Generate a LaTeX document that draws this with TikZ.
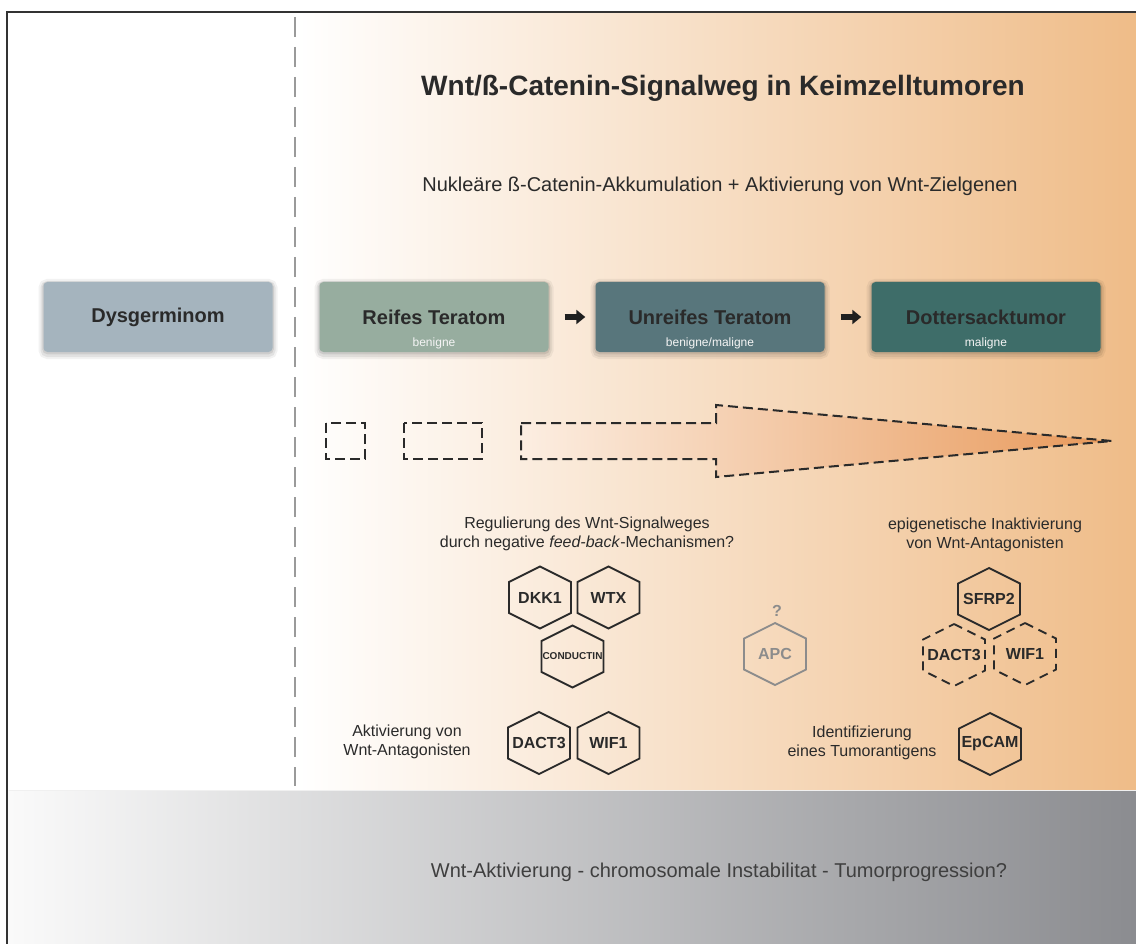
\documentclass[tikz,border=0pt]{standalone}
\usepackage{fontspec}
\setmainfont{Liberation Sans}
\usetikzlibrary{positioning}
\usetikzlibrary{arrows.meta}

\definecolor{frameline}{HTML}{333333}
\definecolor{sepline}{HTML}{9A9A9A}
\definecolor{warmL}{HTML}{FFFFFF}
\definecolor{warmM}{HTML}{F7DEC4}
\definecolor{warmR}{HTML}{EFBC88}
\definecolor{bandL}{HTML}{FAFAFA}
\definecolor{bandM}{HTML}{D2D2D4}
\definecolor{bandR}{HTML}{8B8C90}
\definecolor{dysgcol}{HTML}{A5B4BE}
\definecolor{reifcol}{HTML}{97AD9F}
\definecolor{unreifcol}{HTML}{58767C}
\definecolor{dottercol}{HTML}{3E6D69}
\definecolor{inkdark}{HTML}{2A2A2A}
\definecolor{apcgray}{HTML}{8C8C8C}
\definecolor{arrowL}{HTML}{FCEEE2}
\definecolor{arrowR}{HTML}{E8995A}

% hexagon cell: [options] {name} {position} {label}
\newcommand{\hexcell}[4][]{%
  \node[hexlabel,#1] (#2) at (#3) {#4};
  \draw[hexline,#1] (#2) +(0,-31) -- +(31,-15.5) -- +(31,15.5) -- +(0,31)
    -- +(-31,15.5) -- +(-31,-15.5) -- cycle;
}

\begin{document}
\begin{tikzpicture}[
    x=1pt, y=-1pt,
    stage/.style={rounded corners=4pt, minimum width=229pt, minimum height=70pt,
      inner sep=0pt, text=inkdark, font=\fontsize{20}{24}\selectfont\bfseries,
      preaction={draw=black, draw opacity=0.05, line width=10pt, transform canvas={yshift=-2pt}},
      preaction={draw=black, draw opacity=0.07, line width=6pt, transform canvas={yshift=-2pt}},
      preaction={draw=black, draw opacity=0.09, line width=2.5pt, transform canvas={yshift=-1pt}}},
    grade/.style={inner sep=0pt, text=white!92!gray, font=\fontsize{12}{14}\selectfont},
    steparrow/.style={line width=6pt, draw=black!88, -{Triangle[length=9pt,width=14pt]},
      shorten <=16pt, shorten >=10pt},
    hexlabel/.style={inner sep=0pt, color=inkdark, font=\fontsize{16}{18}\selectfont\bfseries},
    hexline/.style={draw, color=inkdark, line width=1.8pt},
    hexdash/.style={dash pattern=on 9pt off 6pt},
    dashbox/.style={draw=inkdark, line width=2pt, dash pattern=on 10pt off 5pt},
    note/.style={align=center, text=inkdark, font=\fontsize{16}{18.5}\selectfont}
    ]

    \useasboundingbox (0,0) rectangle (1136,944);

    % backgrounds
    \shade[left color=warmL, middle color=warmM, right color=warmR] (296,13) rectangle (1136,790);
    \shade[left color=bandL, middle color=bandM, right color=bandR] (8,790) rectangle (1136,944);
    \draw[white!88!gray, line width=1pt] (9,790.5) -- (1136,790.5);
    \draw[frameline, line width=2.5pt] (7,950) -- (7,12) -- (1145,12);
    \draw[sepline, line width=2pt, dash pattern=on 20pt off 10pt] (295,17) -- (295,786);

    % headings
    \node[anchor=base, text=inkdark, font=\fontsize{28}{32}\selectfont\bfseries] (title)
      at (723,96) {Wnt/ß-Catenin-Signalweg in Keimzelltumoren};
    \node[anchor=base, text=inkdark, font=\fontsize{20}{24}\selectfont] (subtitle)
      at (720,192) {Nukleäre ß-Catenin-Akkumulation + Aktivierung von Wnt-Zielgenen};

    % tumour stages
    \node[stage, fill=dysgcol] (dysg) at (158,317) {Dysgerminom};
    \node[stage, fill=reifcol] (reif) at (434,317) {Reifes Teratom};
    \node[stage, fill=unreifcol] (unreif) at (710,317) {Unreifes Teratom};
    \node[stage, fill=dottercol] (dotter) at (986,317) {Dottersacktumor};

    \node[grade, above=3pt of reif.south] (reifgrade) {benigne};
    \node[grade, above=3pt of unreif.south] (unreifgrade) {benigne/maligne};
    \node[grade, above=3pt of dotter.south] (dottergrade) {maligne};

    \draw[steparrow] (reif) -- (unreif);
    \draw[steparrow] (unreif) -- (dotter);

    % progression arrow
    \draw[dashbox] (326,423) rectangle (365,459);
    \draw[dashbox] (404,423) rectangle (482,459);
    \shadedraw[dashbox, left color=arrowL, right color=arrowR]
      (521,423) -- (716,423) -- (716,405) -- (1112,441) -- (716,477) -- (716,459) -- (521,459) -- cycle;

    % feedback regulators
    \node[note] (feedback) at (587,534) {Regulierung des Wnt-Signalweges\\durch negative \emph{feed-back}-Mechanismen?};
    \hexcell{dkk}{540,597.5}{DKK1}
    \hexcell{wtx}{608.5,597.5}{WTX}
    \hexcell{conductin}{572.5,656.5}{{\fontsize{10}{12}\selectfont CONDUCTIN}}

    \node[note] (antagon) at (407,742) {Aktivierung von\\Wnt-Antagonisten};
    \hexcell{dacta}{539,743}{DACT3}
    \hexcell{wifa}{608.5,743}{WIF1}

    % APC
    \node[hexlabel, color=apcgray] (apcq) at (777,611) {?};
    \hexcell[color=apcgray]{apc}{775,654}{APC}

    % epigenetic silencing
    \node[note] (epigen) at (985,535) {epigenetische Inaktivierung\\von Wnt-Antagonisten};
    \hexcell{sfrp}{989,599}{SFRP2}
    \hexcell[hexdash]{dactb}{954,655}{DACT3}
    \hexcell[hexdash]{wifb}{1025,654}{WIF1}

    \node[note] (antigen) at (862,743) {Identifizierung\\eines Tumorantigens};
    \hexcell{epcam}{990,744}{EpCAM}

    % bottom band
    \node[anchor=base, text=inkdark!90, font=\fontsize{20}{24}\selectfont] (instab)
      at (719,877) {Wnt-Aktivierung - chromosomale Instabilitat - Tumorprogression?};

  \end{tikzpicture}
\end{document}
